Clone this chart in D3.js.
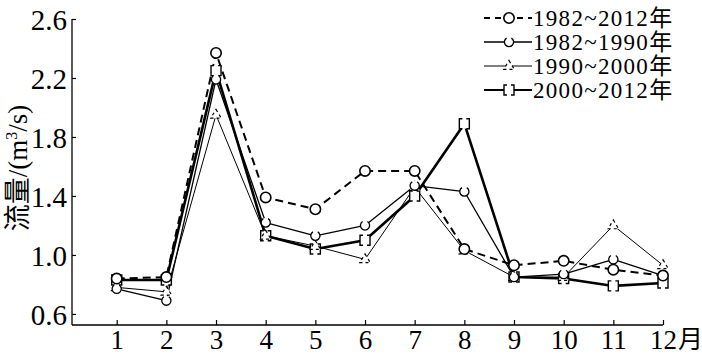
<!DOCTYPE html>
<html><head><meta charset="utf-8">
<script src="https://cdn.jsdelivr.net/npm/d3@7"></script>
<style>body{margin:0;background:#fff}svg{display:block}
svg text{font-family:"Liberation Serif","DejaVu Serif","Noto Sans CJK SC",serif !important;}</style>
</head><body>
<svg id="chart" width="702" height="356"></svg>
<script>
const months = [1,2,3,4,5,6,7,8,9,10,11,12];
const yTicks = [0.6,1.0,1.4,1.8,2.2,2.6];
const seriesNames = ["1982~2012年","1982~1990年","1990~2000年","2000~2012年"];
const s1982_2012 = [0.84,0.85,2.37,1.39,1.31,1.57,1.57,1.04,0.93,0.96,0.90,0.86];
const s1982_1990 = [0.77,0.69,2.19,1.22,1.13,1.20,1.47,1.43,0.85,0.87,0.97,0.86];
const s1990_2000 = [0.78,0.75,1.95,1.13,1.06,0.97,1.46,1.03,0.85,0.85,1.20,0.93];
const s2000_2012 = [0.83,0.83,2.25,1.13,1.04,1.10,1.40,1.89,0.85,0.84,0.79,0.81];

const svg = d3.select("#chart");
const x = d3.scaleLinear().domain([0.1,12]).range([72,663]);
const y = d3.scaleLinear().domain([0.525,2.6]).range([325,19]);

// axes
const xAxis = d3.axisBottom(x).tickValues(months).tickSizeInner(-5).tickSizeOuter(0).tickPadding(6).tickFormat(d3.format("d"));
const gx = svg.append("g").attr("transform","translate(0,325)").call(xAxis);
gx.select(".domain").attr("stroke","#000").attr("stroke-width",1.3).attr("d","M72,0H663");
gx.selectAll(".tick line").attr("stroke","#000").attr("stroke-width",1.2);
gx.selectAll(".tick text").attr("font-size",27).attr("fill","#000").attr("y",24).attr("dy",0);

const yAxis = d3.axisLeft(y).tickValues(yTicks).tickSizeInner(-4).tickSizeOuter(0).tickPadding(5).tickFormat(d3.format(".1f"));
const gy = svg.append("g").attr("transform","translate(72,0)").call(yAxis);
gy.select(".domain").attr("stroke","#000").attr("stroke-width",1.3).attr("d","M0,19V325");
gy.selectAll(".tick line").attr("stroke","#000").attr("stroke-width",1.2);
gy.selectAll(".tick text").attr("font-size",29).attr("fill","#000").attr("dy","0.35em");

svg.append("text").attr("x",678).attr("y",348)
  .attr("font-size",25).attr("fill","#000").text("月");

const yl = svg.append("text").attr("transform","translate(27,168) rotate(-90)")
  .attr("text-anchor","middle").attr("font-size",27).attr("fill","#000");
yl.append("tspan").text("流量/(m");
yl.append("tspan").attr("font-size",16).attr("dy",-10).text("3");
yl.append("tspan").attr("dy",10).text("/s)");

// marker drawers
function mCircle(g,cx,cy){
  g.append("circle").attr("cx",cx).attr("cy",cy).attr("r",5.2).attr("fill","#fff").attr("stroke","#000").attr("stroke-width",1.6);
}
function mGapCircle(g,cx,cy){
  g.append("circle").attr("cx",cx).attr("cy",cy).attr("r",4.6).attr("fill","#fff").attr("stroke","none");
  const arc = d3.arc().innerRadius(4.6).outerRadius(4.6).startAngle(0.55).endAngle(2*Math.PI-0.55);
  g.append("path").attr("transform",`translate(${cx},${cy})`).attr("d",arc()).attr("fill","none").attr("stroke","#000").attr("stroke-width",1.3);
}
function mTriangle(g,cx,cy){
  const r=5.5;
  const pts=[[cx,cy-r],[cx+r*0.95,cy+r*0.6],[cx-r*0.95,cy+r*0.6]];
  g.append("path").attr("d","M"+pts.join("L")+"Z").attr("fill","#fff").attr("stroke","none");
  g.append("path").attr("d","M"+pts.join("L")+"Z").attr("fill","none").attr("stroke","#000").attr("stroke-width",1.2).attr("stroke-dasharray","3,3");
}
function mSquare(g,cx,cy){
  const h=5;
  g.append("rect").attr("x",cx-h).attr("y",cy-h).attr("width",2*h).attr("height",2*h).attr("fill","#fff");
  g.append("path").attr("d",`M${cx-2},${cy-h}H${cx-h}V${cy+h}H${cx-2}M${cx+2},${cy-h}H${cx+h}V${cy+h}H${cx+2}`)
    .attr("fill","none").attr("stroke","#000").attr("stroke-width",1.4);
}

const series = [
  {name:seriesNames[3], vals:s2000_2012, w:2.6, dash:null, marker:mSquare},
  {name:seriesNames[2], vals:s1990_2000, w:1.0, dash:null, marker:mTriangle},
  {name:seriesNames[1], vals:s1982_1990, w:1.3, dash:null, marker:mGapCircle},
  {name:seriesNames[0], vals:s1982_2012, w:2.0, dash:"8,5", marker:mCircle}
];
const line = d3.line().x((d,i)=>x(months[i])).y(d=>y(d));
series.forEach(s=>{
  svg.append("path").datum(s.vals).attr("d",line).attr("fill","none").attr("stroke","#000")
    .attr("stroke-width",s.w).attr("stroke-dasharray",s.dash).attr("stroke-linejoin","round");
});
series.forEach(s=>{
  const g = svg.append("g");
  s.vals.forEach((v,i)=>s.marker(g,x(months[i]),y(v)));
});

// legend
const legOrder = [series[3],series[2],series[1],series[0]];
legOrder.forEach((s,i)=>{
  const cy = 18 + i*24;
  const g = svg.append("g");
  g.append("line").attr("x1",484).attr("x2",532).attr("y1",cy).attr("y2",cy)
    .attr("stroke","#000").attr("stroke-width",Math.min(s.w,2.2)).attr("stroke-dasharray",s.dash?"6,5":null);
  s.marker(g,509,cy);
  g.append("text").attr("x",533).attr("y",cy).attr("dy","0.35em")
    .attr("font-size",23).attr("letter-spacing",1.3).attr("fill","#000").text(s.name);
});
</script>
</body></html>
